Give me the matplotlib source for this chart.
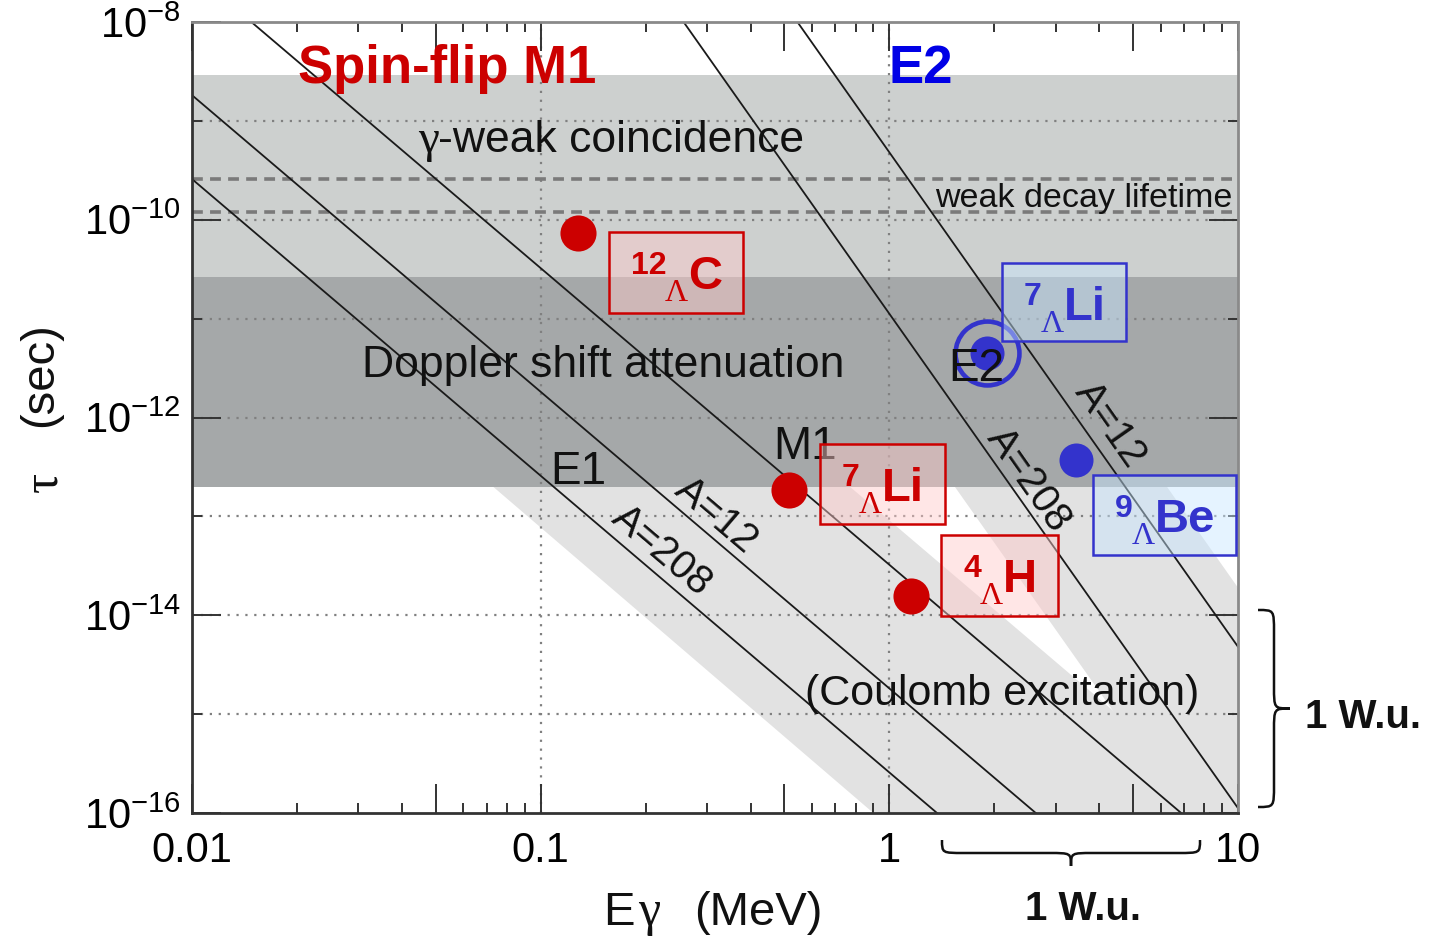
import numpy as np
import matplotlib
matplotlib.use("Agg")
import matplotlib.pyplot as plt
from matplotlib.path import Path
from matplotlib.patches import PathPatch, Rectangle, Polygon
from matplotlib.transforms import Affine2D
from matplotlib.ticker import FixedLocator, NullFormatter

W, H = 1435, 941

plt.rcParams["font.family"] = ["Liberation Sans", "DejaVu Sans"]
plt.rcParams["mathtext.default"] = "regular"
SERIF = ["Liberation Serif", "DejaVu Serif"]

# ---- values ----
# Weisskopf lines, given by their two end points (E in MeV, tau in s)
line_names = ["E1 A=208", "E1 A=12", "M1", "E2 A=208", "E2 A=12"]
line_E0 = [0.01, 0.01, 0.0148, 0.257, 0.545]
line_tau0 = [2.58e-10, 1.82e-9, 1e-8, 1e-8, 1e-8]
line_E1 = [1.37, 2.63, 6.87, 10.0, 10.0]
line_tau1 = [1e-16, 1e-16, 1e-16, 1.12e-16, 4.8e-15]

coincidence_band = [2.64e-11, 2.9e-9]
doppler_band = [2.0e-13, 2.64e-11]
weak_decay_tau = [2.6e-10, 1.2e-10]

# Coulomb excitation regions (polygon corners)
coulomb_m1_E = [0.073, 0.90, 9.7, 0.77]
coulomb_m1_tau = [2e-13, 1e-16, 1e-16, 2e-13]
coulomb_e2_E = [1.54, 7.05, 10.0, 10.0, 6.25]
coulomb_e2_tau = [2e-13, 1e-16, 1e-16, 1.9e-14, 2e-13]

# measured hypernuclear transitions
m1_labels = [("12", "C"), ("7", "Li"), ("4", "H")]
m1_E = [0.128, 0.516, 1.156]
m1_tau = [7.4e-11, 1.85e-13, 1.57e-14]
e2_labels = [("7", "Li"), ("9", "Be")]
e2_E = [1.90, 3.44]
e2_tau = [4.5e-12, 3.7e-13]

x_ticks = [0.01, 0.05, 0.1, 0.5, 1, 5, 10]
x_ticklabels = ["0.01", "", "0.1", "", "1", "", "10"]
y_ticks = [1e-16, 1e-14, 1e-12, 1e-10, 1e-8]
y_ticklabels = ["$10^{-16}$", "$10^{-14}$", "$10^{-12}$", "$10^{-10}$", "$10^{-8}$"]
y_minor = [1e-15, 1e-13, 1e-11, 1e-9]
grid_x = [0.1, 1]
grid_y = [1e-9, 1e-10, 1e-11, 1e-12, 1e-13, 1e-14, 1e-15]

RED = "#cc0000"
BLUE = "#3333cc"
INK = "#111111"

fig = plt.figure(figsize=(W / 100, H / 100), dpi=100)
ax = fig.add_axes([192 / W, 1 - 813 / H, (1238 - 192) / W, (813 - 22) / H])
# pixel coordinates (origin top-left) for annotations
pix = Affine2D().scale(1 / W, -1 / H).translate(0, 1) + fig.transFigure

ax.set_xscale("log")
ax.set_yscale("log")
ax.set_xlim(0.01, 10)
ax.set_ylim(1e-16, 1e-8)

# shaded regions
ax.add_patch(Polygon(list(zip(coulomb_m1_E, coulomb_m1_tau)), closed=True,
                     facecolor="#e2e2e2", edgecolor="none", zorder=0.5))
ax.add_patch(Polygon(list(zip(coulomb_e2_E, coulomb_e2_tau)), closed=True,
                     facecolor="#e2e2e2", edgecolor="none", zorder=0.5))
ax.axhspan(coincidence_band[0], coincidence_band[1], color="#cdd0cf", lw=0, zorder=0.6)
ax.axhspan(doppler_band[0], doppler_band[1], color="#a5a8a9", lw=0, zorder=0.6)

for gx in grid_x:
    ax.axvline(gx, color="#808080", ls=(0, (1, 3)), lw=1.6, zorder=1)
for gy in grid_y:
    ax.axhline(gy, color="#808080", ls=(0, (1, 3)), lw=1.6, zorder=1)
for wt in weak_decay_tau:
    ax.axhline(wt, color="#7a7a7a", ls=(0, (3, 2)), lw=2.6, zorder=1.2)

for e0, t0, e1, t1 in zip(line_E0, line_tau0, line_E1, line_tau1):
    ax.plot([e0, e1], [t0, t1], color="#1a1a1a", lw=1.3, zorder=2)

# axes styling
ax.set_xticks(x_ticks)
ax.set_xticklabels(x_ticklabels)
ax.xaxis.set_minor_locator(FixedLocator([m * d for d in (0.01, 0.1, 1) for m in (2, 3, 4, 6, 7, 8, 9)]))
ax.xaxis.set_minor_formatter(NullFormatter())
ax.set_yticks(y_ticks)
ax.set_yticklabels(y_ticklabels)
ax.yaxis.set_minor_locator(FixedLocator(y_minor))
ax.yaxis.set_minor_formatter(NullFormatter())
ax.tick_params(which="both", direction="in", top=True, right=True, color="#333333")
ax.tick_params(which="major", length=21, width=1.4)
ax.tick_params(which="minor", length=7, width=1.4)
ax.tick_params(axis="x", labelsize=30, pad=13)
ax.tick_params(axis="y", labelsize=30, pad=8)
for side, sp in ax.spines.items():
    sp.set_linewidth(2)
    sp.set_color("#333333" if side in ("left", "bottom") else "#8a8a8a")
    sp.set_zorder(5)

# region / line texts
def ptext(x, y, s, **kw):
    kw.setdefault("ha", "left")
    kw.setdefault("va", "baseline")
    kw.setdefault("color", INK)
    fig.text(x, y, s, transform=pix, **kw)

ptext(298, 83, "Spin-flip M1", fontsize=38, fontweight="bold", color=RED, zorder=6)
ptext(888, 83, "E2", fontsize=38, fontweight="bold", color="#0000e6", zorder=6)
ptext(418, 152, "γ", fontsize=34, family=SERIF)
ptext(438, 152, "-weak coincidence", fontsize=32)
ptext(935, 207, "weak decay lifetime", fontsize=24.5)
ptext(362, 377, "Doppler shift attenuation", fontsize=32)
ptext(805, 705, "(Coulomb excitation)", fontsize=31)
ptext(550, 484, "E1", fontsize=33)
ptext(773, 459, "M1", fontsize=33)
ptext(948, 381, "E2", fontsize=33)
for (cx, cy, s, rot) in [(716, 515, "A=12", -40.4), (662, 551, "A=208", -40.4),
                         (1029, 480, "A=208", -55), (1110, 425, "A=12", -55)]:
    ptext(cx, cy, s, fontsize=29, rotation=rot, rotation_mode="anchor",
          ha="center", va="center")

# data points
ax.plot(m1_E, m1_tau, "o", ms=26, color=RED, mec="none", zorder=7, clip_on=False)
ax.plot(e2_E, e2_tau, "o", ms=24.5, color=BLUE, mec="none", zorder=7, clip_on=False)
ax.plot(e2_E[:1], e2_tau[:1], "o", ms=46, mfc="none", mec=BLUE, mew=3.3, zorder=7)

# hypernucleus label boxes
def hyper_box(x0, y0, x1, y1, sup, el, color, face):
    fig.patches.append(Rectangle((x0, y0), x1 - x0, y1 - y0, transform=pix,
                                 facecolor=face, edgecolor=color, lw=1.8, zorder=8))
    sx = x0 + 22
    lx = sx + 17 * len(sup)
    ex = lx + 23
    ptext(sx, y0 + 42, sup, fontsize=23, fontweight="bold", color=color, zorder=9)
    ptext(lx, y0 + 69, "Λ", fontsize=23, family=SERIF, color=color, zorder=9)
    ptext(ex, y0 + 57, el, fontsize=34, fontweight="bold", color=color, zorder=9)

red_face = (1.0, 0.79, 0.79, 0.46)
blue_face = (0.78, 0.90, 1.0, 0.46)
m1_boxes = [(609, 232, 743, 313), (820, 444, 945, 524), (941, 535, 1058, 616)]
e2_boxes = [(1002, 263, 1126, 341), (1093, 475, 1236, 555)]
for (sup, el), b in zip(m1_labels, m1_boxes):
    hyper_box(*b, sup, el, RED, red_face)
for (sup, el), b in zip(e2_labels, e2_boxes):
    hyper_box(*b, sup, el, BLUE, blue_face)

# braces
def brace(a0, a1, c0, d, r, vertical):
    am = (a0 + a1) / 2
    pts = [(a0, c0), (a0, c0 + d), (a0, c0 + d), (a0 + r, c0 + d),
           (am - r, c0 + d),
           (am, c0 + d), (am, c0 + d), (am, c0 + 2 * d),
           (am, c0 + d), (am, c0 + d), (am + r, c0 + d),
           (a1 - r, c0 + d),
           (a1, c0 + d), (a1, c0 + d), (a1, c0)]
    codes = [Path.MOVETO] + [Path.CURVE4] * 3 + [Path.LINETO] + [Path.CURVE4] * 6 + \
            [Path.LINETO] + [Path.CURVE4] * 3
    if vertical:
        pts = [(c, a) for a, c in pts]
    fig.patches.append(PathPatch(Path(pts, codes), transform=pix, fill=False,
                                 lw=1.8, edgecolor=INK))

brace(610, 807, 1258, 16, 22, vertical=True)
brace(942, 1200, 840, 13, 22, vertical=False)
ptext(1305, 728, "1 W.u.", fontsize=29, fontweight="bold")
ptext(1025, 920, "1 W.u.", fontsize=29, fontweight="bold")

# axis titles
ptext(603, 925, "E", fontsize=34)
ptext(638, 925, "γ", fontsize=36, family=SERIF)
ptext(694, 925, "(MeV)", fontsize=34)
fig.text(40 / W, 1 - 375 / H, "(sec)", transform=fig.transFigure, fontsize=34,
         rotation=90, ha="center", va="center", color=INK)
fig.text(44 / W, 1 - 482 / H, "τ", transform=fig.transFigure, fontsize=36,
         family=SERIF, rotation=90, ha="center", va="center", color=INK)

fig.savefig("out.png", dpi=100)
